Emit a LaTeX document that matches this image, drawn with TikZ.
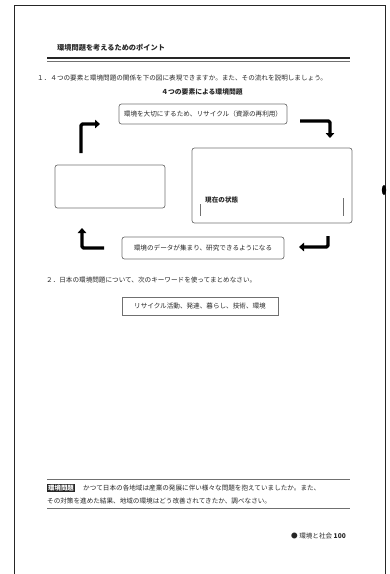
\documentclass[tikz,border=0pt]{standalone}
\usepackage{fontspec}
\setmainfont{Noto Sans CJK JP}
\usetikzlibrary{arrows.meta}
\definecolor{ink}{HTML}{262626}
\definecolor{edge}{HTML}{707070}
\tikzset{
  body/.style={font=\fontsize{6.6}{8}\selectfont, text=ink, inner sep=0pt},
  rbox/.style={draw=edge, line width=0.7pt, rounded corners=2.5pt},
  flow/.style={line width=3.4pt, line join=round, rounded corners=1.5pt, -{Triangle[length=5pt,width=8.5pt]}},
}
\begin{document}
\begin{tikzpicture}[x=1pt,y=-1pt]
\useasboundingbox (0,0) rectangle (389,574);
% page frame
\draw[ink, line width=1pt] (14,574) -- (14,5) -- (385,5) -- (385,574);
\fill[black] (384,190) ellipse (2.2 and 5);
% heading
\node[body, anchor=west, font=\fontsize{7.2}{8}\selectfont\bfseries] (head) at (57,48) {環境問題を考えるためのポイント};
\node[draw=none, fill=ink, minimum width=303, minimum height=2.2, inner sep=0pt, anchor=north west] (hrule) at (47,57) {};
\node[draw=none, fill=edge, minimum width=303, minimum height=0.7, inner sep=0pt, anchor=north west] (hrule2) at (47,60.5) {};
% question 1
\node[body, anchor=west] (q1) at (37,78) {１．４つの要素と環境問題の関係を下の図に表現できますか。また、その流れを説明しましょう。};
\node[body, font=\fontsize{6.8}{8}\selectfont\bfseries] (sub) at (202,92) {４つの要素による環境問題};
% boxes
\node[rbox, minimum width=168, minimum height=20, body] (top) at (203,114) {環境を大切にするため、リサイクル（資源の再利用）};
\node[rbox, minimum width=110, minimum height=43] (left) at (110,186.5) {};
\node[rbox, minimum width=160, minimum height=75] (right) at (272,185.5) {};
\node[body, anchor=west, font=\fontsize{6.6}{8}\selectfont\bfseries] (state) at (205,200) {現在の状態};
\draw[edge, line width=0.5pt] (200,204) -- (200,216);
\draw[edge, line width=0.5pt] (343,198) -- (343,216);
\node[rbox, minimum width=162, minimum height=22, body] (bot) at (203,248) {環境のデータが集まり、研究できるようになる};
% flow arrows
\coordinate (a1s) at (300,121); \coordinate (a1m) at (330,121); \coordinate (a1e) at (330,138);
\coordinate (a2s) at (328,236); \coordinate (a2m) at (328,247); \coordinate (a2e) at (299,247);
\coordinate (a3s) at (104,248); \coordinate (a3m) at (82,248); \coordinate (a3e) at (82,228);
\coordinate (a4s) at (81,153); \coordinate (a4m) at (81,124); \coordinate (a4e) at (100,124);
\draw[flow] (a1s) -- (a1m) -- (a1e);
\draw[flow] (a2s) -- (a2m) -- (a2e);
\draw[flow] (a3s) -- (a3m) -- (a3e);
\draw[flow] (a4s) -- (a4m) -- (a4e);
% question 2
\node[body, anchor=west] (q2) at (46,280) {２．日本の環境問題について、次のキーワードを使ってまとめなさい。};
\node[draw=edge, line width=0.6pt, minimum width=156, minimum height=18, body] (kw) at (200,306) {リサイクル活動、発達、暮らし、技術、環境};
% bottom note
\draw[edge, line width=0.8pt] (47,479) -- (350,479);
\node[fill=ink, text=white, inner sep=1pt, font=\fontsize{6.4}{7}\selectfont\bfseries, anchor=west] (lab) at (47,488) {環境問題};
\node[body, anchor=west] (n1) at (83,488) {かつて日本の各地域は産業の発展に伴い様々な問題を抱えていましたか。また、};
\node[body, anchor=west] (n2) at (47,501) {その対策を進めた結果、地域の環境はどう改善されてきたか、調べなさい。};
\draw[edge, line width=1pt] (47,508) -- (350,508);
% footer
\node[body, anchor=east] (foot) at (346,536) {●\ 環境と社会\ \textbf{100}};
\end{tikzpicture}
\end{document}
